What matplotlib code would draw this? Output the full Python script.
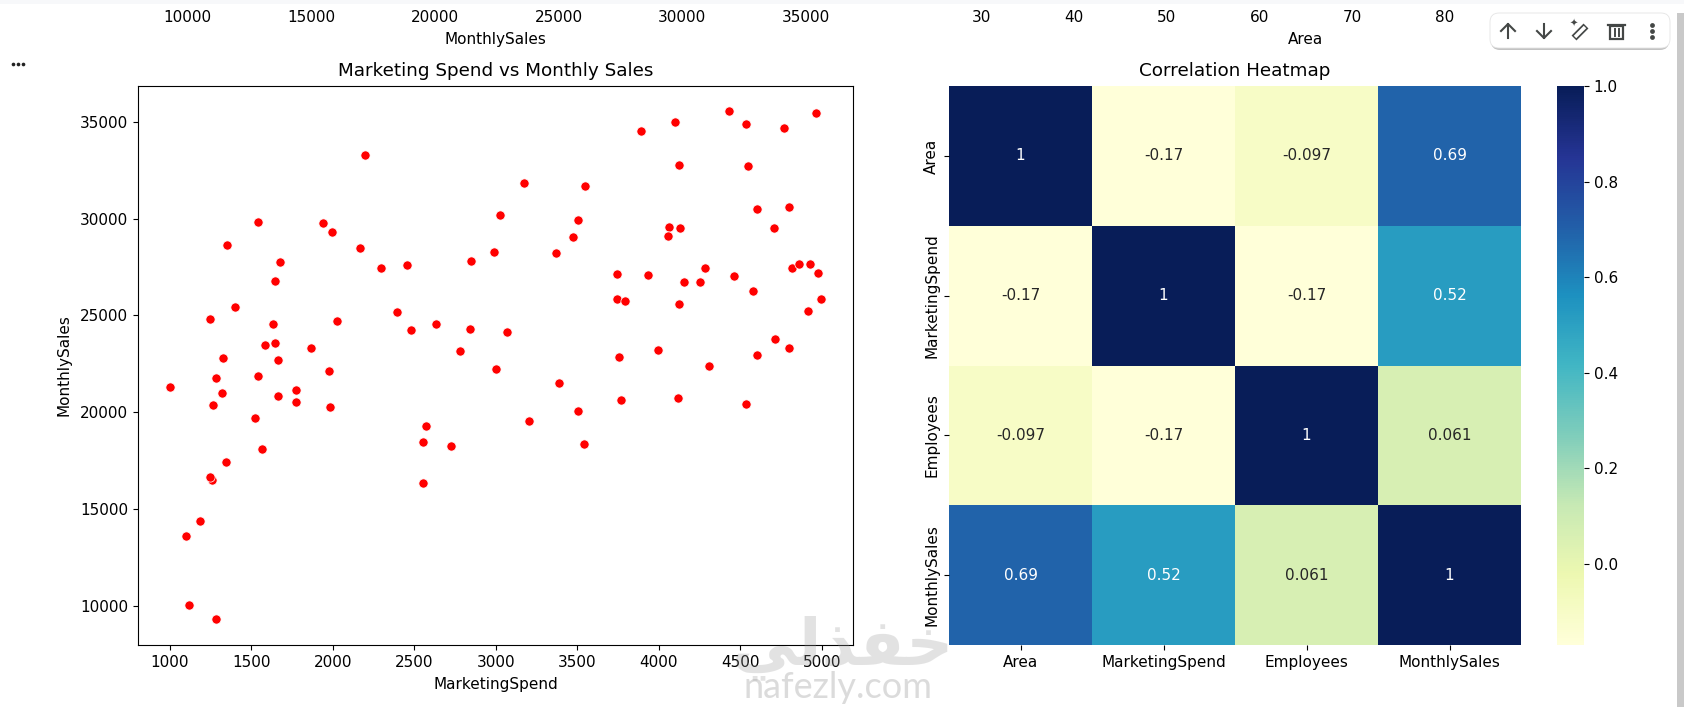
import matplotlib
matplotlib.use("Agg")
import matplotlib.pyplot as plt
from matplotlib.patches import FancyBboxPatch, Rectangle
import numpy as np
import seaborn as sns

plt.rcParams["font.size"] = 11

marketing_spend = [4431, 4963, 3889, 4098, 4535, 4768, 2199, 4125, 4549, 3172, 3549, 4606, 4801, 3024,
                   1542, 1943, 3502, 1997, 4064, 4131, 4707, 4057, 3475, 1354, 2165, 2990, 3367, 1677,
                   2848, 2293, 2455, 4286, 4815, 4862, 4929, 4976, 3747, 3936, 4461, 1643, 4158, 4253,
                   4576, 3747, 3795, 4997, 4125, 1401, 4916, 1246, 2394, 1636, 2024, 2633, 2481, 2842,
                   3071, 4714, 4801, 1869, 1582, 1643, 2781, 3997, 1327, 1663, 3754, 4606, 4306, 1976,
                   3003, 1286, 1542, 3391, 1003, 1774, 1320, 1667, 4118, 3768, 1774, 4535, 1266, 1983,
                   3502, 1522, 3205, 2572, 2556, 1566, 2727, 3539, 1347, 1259, 1246, 2556, 1185, 1098,
                   1118, 1286]
monthly_sales = [35585, 35464, 34518, 35017, 34914, 34690, 33280, 32764, 32712, 31818, 31698, 30511, 30614, 30167,
                 29840, 29788, 29943, 29324, 29548, 29496, 29496, 29100, 29049, 28653, 28481, 28258, 28206, 27742,
                 27793, 27466, 27587, 27466, 27466, 27638, 27638, 27174, 27122, 27071, 27019, 26796, 26727, 26727,
                 26280, 25832, 25764, 25832, 25609, 25437, 25213, 24818, 25162, 24542, 24714, 24542, 24267, 24319,
                 24147, 23803, 23304, 23304, 23459, 23579, 23132, 23184, 22803, 22681, 22855, 22976, 22405, 22128,
                 22232, 21782, 21886, 21505, 21280, 21159, 20986, 20813, 20709, 20605, 20536, 20432, 20363, 20260,
                 20035, 19689, 19516, 19291, 18443, 18097, 18270, 18374, 17405, 16488, 16626, 16350, 14360, 13616,
                 10035, 9309]

columns = ["Area", "MarketingSpend", "Employees", "MonthlySales"]
corr_area = [1, -0.17, -0.097, 0.69]
corr_marketing = [-0.17, 1, -0.17, 0.52]
corr_employees = [-0.097, -0.17, 1, 0.061]
corr_sales = [0.69, 0.52, 0.061, 1]

upper_left_ticks = [10000, 15000, 20000, 25000, 30000, 35000]
upper_right_ticks = [30, 40, 50, 60, 70, 80]

W, H = 1684, 707
fig = plt.figure(figsize=(W / 100, H / 100), dpi=100, facecolor="white")


def box(x0, y0, x1, y1):
    return [x0 / W, 1 - y1 / H, (x1 - x0) / W, (y1 - y0) / H]


# Cut-off row of plots above
for rect, ticks, lim, name in [
    (box(138, -60, 853, 0), upper_left_ticks, (7996, 36900), "MonthlySales"),
    (box(948, -60, 1663, 0), upper_right_ticks, (26.4, 103.5), "Area"),
]:
    up = fig.add_axes(rect)
    up.set_xlim(*lim)
    up.set_xticks(ticks)
    up.set_yticks([])
    up.tick_params(axis="x", length=0, pad=7)
    for s in up.spines.values():
        s.set_visible(False)
    up.set_xlabel(name, labelpad=5.5)

# Scatter
ax = fig.add_axes(box(138, 86, 853, 645))
sns.scatterplot(x=marketing_spend, y=monthly_sales, color="red", s=44, ax=ax)
ax.set_xlim(805, 5192)
ax.set_ylim(7960, 36855)
ax.set_xticks(range(1000, 5001, 500))
ax.set_yticks(range(10000, 35001, 5000))
ax.set_xlabel("MarketingSpend", labelpad=5)
ax.set_ylabel("MonthlySales", labelpad=6)
ax.set_title("Marketing Spend vs Monthly Sales", pad=7.5)

# Heatmap
hm = fig.add_axes(box(949, 86, 1521, 645))
cax = fig.add_axes(box(1557, 86, 1584, 645))
corr = np.array([corr_area, corr_marketing, corr_employees, corr_sales])
sns.heatmap(corr, annot=True, cmap="YlGnBu", ax=hm, cbar_ax=cax,
            xticklabels=columns, yticklabels=columns)
hm.set_title("Correlation Heatmap", pad=7.5)
cax.set_yticks([0.0, 0.2, 0.4, 0.6, 0.8, 1.0])

# Page furniture drawn in pixel coordinates
ov = fig.add_axes([0, 0, 1, 1], zorder=10)
ov.set_xlim(0, W)
ov.set_ylim(H, 0)
ov.axis("off")
ov.patch.set_alpha(0)

ov.add_patch(Rectangle((0, 0), W, 10, fc="white", ec="none"))
ov.add_patch(Rectangle((0, 0), W, 4, fc="#f7f8fa", ec="none"))
ov.add_patch(Rectangle((1677, 13), 7, H - 13, fc="#c9c9c9", ec="none"))
ov.scatter([13, 18, 23], [64, 64, 64], s=7, color="#222222", linewidths=0)

# Toolbar
ov.add_patch(FancyBboxPatch((1491, 20), 178, 30, boxstyle="round,pad=0,rounding_size=9",
                            fc="#9a9a9a", ec="none", alpha=0.6))
ov.add_patch(FancyBboxPatch((1490, 13), 180, 35, boxstyle="round,pad=0,rounding_size=9",
                            fc="white", ec="#e4e4e4", lw=0.6))
icon = "#444746"
lw = 1.5
ov.plot([1508, 1508], [24, 38], color=icon, lw=lw)
ov.plot([1501, 1508, 1515], [31, 24, 31], color=icon, lw=lw)
ov.plot([1544, 1544], [24, 38], color=icon, lw=lw)
ov.plot([1537, 1544, 1551], [31, 38, 31], color=icon, lw=lw)
ov.plot([1574, 1586], [38, 26], color=icon, lw=5, solid_capstyle="butt")
ov.plot([1575, 1585], [37, 27], color="white", lw=2.5, solid_capstyle="butt")
ov.text(1574, 24, "✦", fontsize=7, ha="center", va="center", color=icon)
ov.add_patch(Rectangle((1610, 26), 13, 13, fc="none", ec=icon, lw=1.6))
ov.plot([1608, 1625], [24.5, 24.5], color=icon, lw=1.6)
ov.plot([1614.5, 1614.5], [29, 36], color=icon, lw=1.4)
ov.plot([1618.5, 1618.5], [29, 36], color=icon, lw=1.4)
ov.scatter([1652, 1652, 1652], [25, 31, 37], s=12, color=icon, linewidths=0)

# Watermark
ov.text(843, 648, "\ufef2\ufedf\ufeac\ufed4\ufea7", fontsize=47, fontweight="bold", ha="center", va="center",
        color="#9a9a9a", alpha=0.28, family="DejaVu Sans")
ov.text(838, 687, "nafezly.com", fontsize=26, ha="center", va="center",
        color="#9a9a9a", alpha=0.35, family="Lato")

fig.savefig("out.png", dpi=100)
